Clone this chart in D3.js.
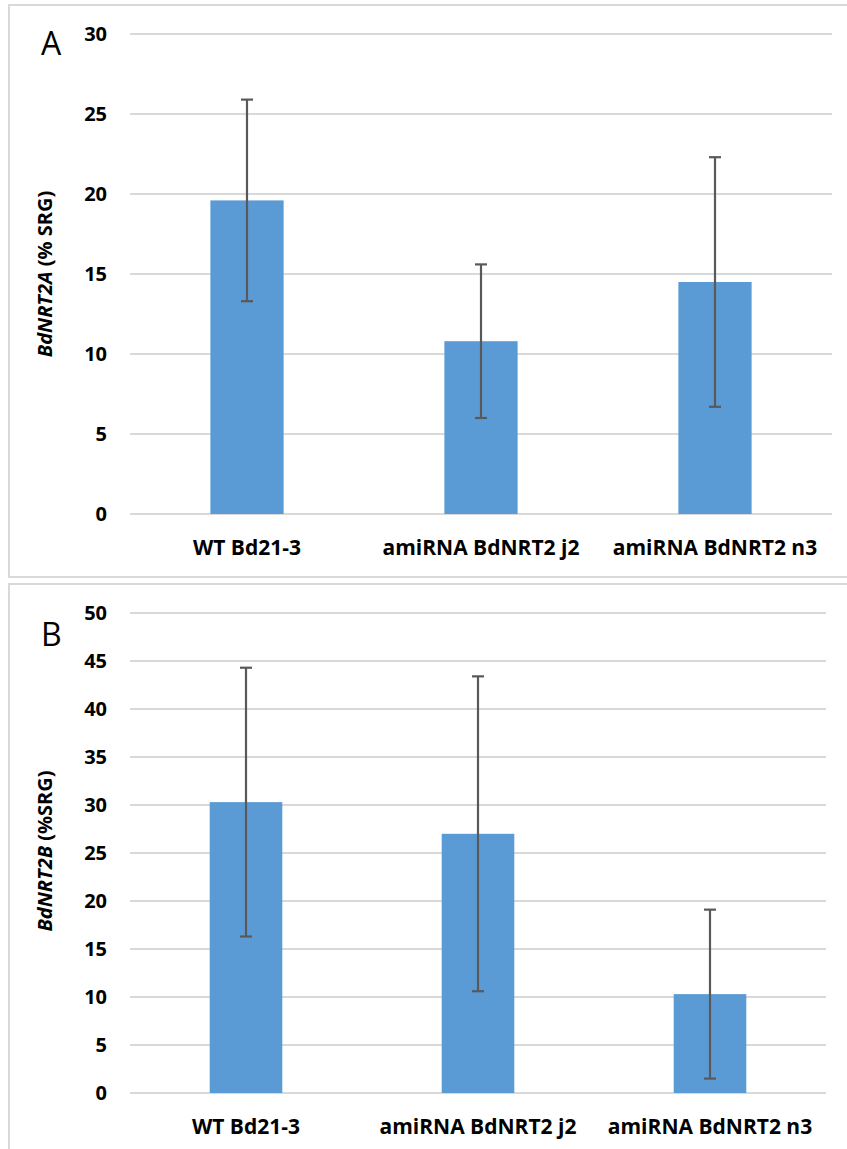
<!DOCTYPE html>
<html>
<head>
<meta charset="utf-8">
<script src="https://cdn.jsdelivr.net/npm/d3@7"></script>
<style>
  html, body { margin: 0; padding: 0; background: #fff; }
  svg { display: block; }
  text { font-family: "Open Sans", "Liberation Sans", sans-serif; }
</style>
</head>
<body>
<svg id="chart" width="847" height="1149"></svg>
<script>
const categories = ["WT Bd21-3", "amiRNA BdNRT2 j2", "amiRNA BdNRT2 n3"];

const valuesA = [19.6, 10.8, 14.5];
const errorsA = [6.3, 4.8, 7.8];
const ticksA = [0, 5, 10, 15, 20, 25, 30];

const valuesB = [30.3, 27.0, 10.3];
const errorsB = [14.0, 16.4, 8.8];
const ticksB = [0, 5, 10, 15, 20, 25, 30, 35, 40, 45, 50];

const svg = d3.select("#chart");

const panels = [
  { letter: "A", gene: "BdNRT2A", unit: " (% SRG)", values: valuesA, errors: errorsA, ticks: ticksA,
    box: [9, 5, 845, 572], x0: 130, x1: 832, yTop: 34, yBottom: 514, titleY: 274, letterY: 55 },
  { letter: "B", gene: "BdNRT2B", unit: " (%SRG)", values: valuesB, errors: errorsB, ticks: ticksB,
    box: [9, 584, 845, 600], x0: 130, x1: 826, yTop: 613, yBottom: 1093, titleY: 851, letterY: 646 }
];

panels.forEach(p => {
  const g = svg.append("g");
  g.append("rect")
    .attr("x", p.box[0]).attr("y", p.box[1])
    .attr("width", p.box[2]).attr("height", p.box[3])
    .attr("fill", "#fff").attr("stroke", "#D9D9D9").attr("stroke-width", 2);

  const x = d3.scaleBand().domain(categories).range([p.x0, p.x1]).paddingInner(0).paddingOuter(0);
  const y = d3.scaleLinear().domain([0, d3.max(p.ticks)]).range([p.yBottom, p.yTop]);
  const barW = x.bandwidth() * 0.313;

  // gridlines
  g.selectAll(".grid").data(p.ticks).join("line")
    .attr("x1", p.x0).attr("x2", p.x1)
    .attr("y1", d => y(d)).attr("y2", d => y(d))
    .attr("stroke", "#D9D9D9").attr("stroke-width", 2);

  // y tick labels
  g.selectAll(".ytick").data(p.ticks).join("text")
    .attr("x", 107).attr("y", d => y(d))
    .attr("dy", "0.35em")
    .attr("text-anchor", "end")
    .attr("font-size", 20).attr("font-weight", "bold").attr("fill", "#000")
    .text(d => d);

  // bars
  const data = categories.map((c, i) => ({ c, v: p.values[i], e: p.errors[i] }));
  g.selectAll(".bar").data(data).join("rect")
    .attr("x", d => x(d.c) + x.bandwidth() / 2 - barW / 2)
    .attr("width", barW)
    .attr("y", d => y(d.v))
    .attr("height", d => y(0) - y(d.v))
    .attr("fill", "#5B9BD5");

  // error bars
  const eb = g.selectAll(".err").data(data).join("g");
  eb.append("line")
    .attr("x1", d => x(d.c) + x.bandwidth() / 2).attr("x2", d => x(d.c) + x.bandwidth() / 2)
    .attr("y1", d => y(d.v + d.e)).attr("y2", d => y(d.v - d.e))
    .attr("stroke", "#595959").attr("stroke-width", 2.2);
  eb.append("line")
    .attr("x1", d => x(d.c) + x.bandwidth() / 2 - 6).attr("x2", d => x(d.c) + x.bandwidth() / 2 + 6)
    .attr("y1", d => y(d.v + d.e)).attr("y2", d => y(d.v + d.e))
    .attr("stroke", "#595959").attr("stroke-width", 2.2);
  eb.append("line")
    .attr("x1", d => x(d.c) + x.bandwidth() / 2 - 6).attr("x2", d => x(d.c) + x.bandwidth() / 2 + 6)
    .attr("y1", d => y(d.v - d.e)).attr("y2", d => y(d.v - d.e))
    .attr("stroke", "#595959").attr("stroke-width", 2.2);

  // category labels
  g.selectAll(".xlab").data(categories).join("text")
    .attr("x", d => x(d) + x.bandwidth() / 2)
    .attr("y", y(0) + 41)
    .attr("text-anchor", "middle")
    .attr("font-size", 21).attr("font-weight", "bold").attr("fill", "#000")
    .text(d => d);

  // axis title
  const t = g.append("text")
    .attr("transform", `translate(52,${p.titleY}) rotate(-90)`)
    .attr("text-anchor", "middle")
    .attr("font-size", 20).attr("font-weight", "bold").attr("fill", "#000");
  t.append("tspan").attr("font-style", "italic").text(p.gene);
  t.append("tspan").text(p.unit);

  // panel letter
  g.append("text")
    .attr("x", 41).attr("y", p.letterY)
    .attr("font-size", 32).attr("fill", "#000")
    .text(p.letter);
});
</script>
</body>
</html>
